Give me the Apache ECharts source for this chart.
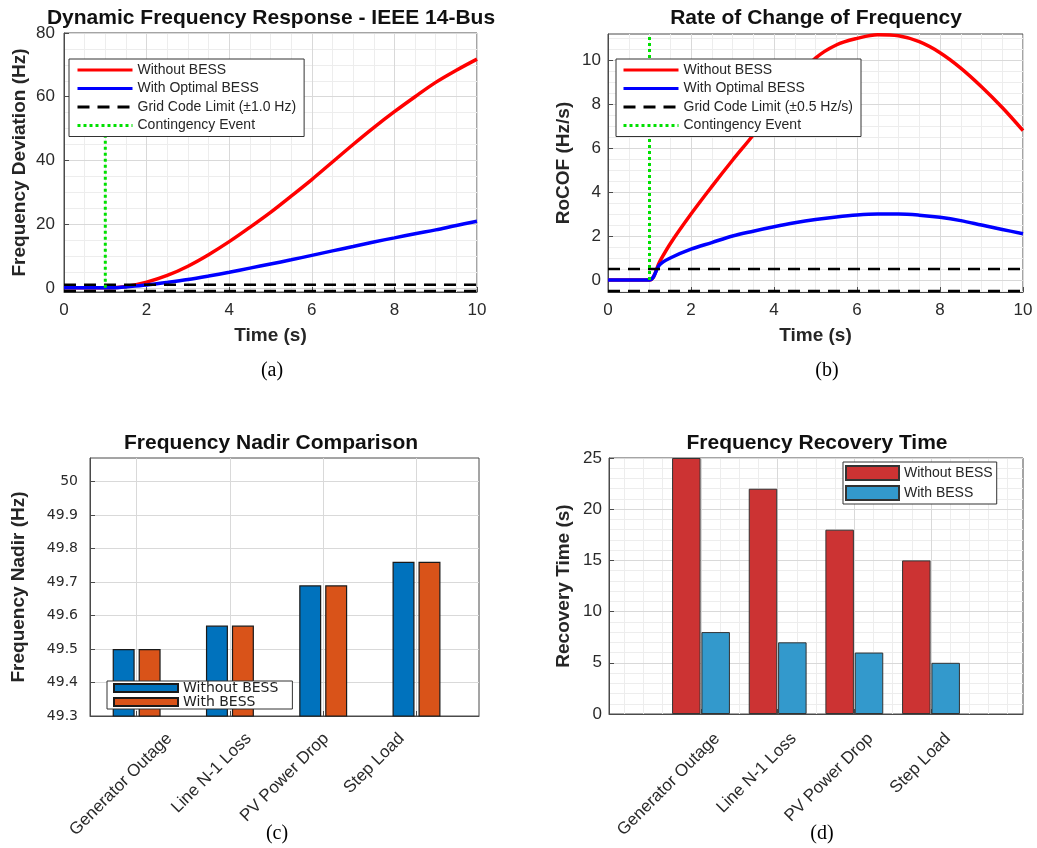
<!DOCTYPE html>
<html>
<head>
<meta charset="utf-8">
<script src="https://cdn.jsdelivr.net/npm/echarts@6/dist/echarts.min.js"></script>
<style>html,body{margin:0;padding:0;background:#fff}#c{width:1037px;height:848px}</style>
</head>
<body>
<div id="c"></div>
<script>
// ---------------- data ----------------
const timeS = [0, 0.5, 1, 1.25, 1.5, 2, 2.5, 3, 3.5, 4, 4.5, 5, 5.5, 6, 6.5, 7, 7.5, 8, 8.5, 9, 9.5, 10];
const freqDevWithout = [0, 0, 0, 0.1, 0.4, 1.8, 3.9, 6.8, 10.4, 14.5, 19.0, 23.7, 28.8, 34.0, 39.5, 45.0, 50.3, 55.3, 60.0, 64.5, 68.3, 71.8];
const freqDevWith = [0, 0, 0, 0.05, 0.3, 0.9, 1.7, 2.6, 3.7, 4.9, 6.2, 7.5, 8.8, 10.2, 11.6, 13.0, 14.4, 15.7, 17.0, 18.2, 19.6, 20.9];
const rocofWithout = [0, 0, 0, 0.85, 1.65, 3.0, 4.25, 5.45, 6.6, 7.85, 9.05, 10.1, 10.7, 11.0, 11.17, 11.12, 10.85, 10.35, 9.65, 8.8, 7.85, 6.8];
const rocofWith = [0, 0, 0, 0.7, 1.0, 1.4, 1.7, 2.0, 2.22, 2.42, 2.6, 2.75, 2.87, 2.96, 3.0, 3.0, 2.95, 2.85, 2.7, 2.5, 2.3, 2.1];
const freqLimit = 1.0;
const rocofLimit = 0.5;
const eventTime = 1;

const scenarios = ['Generator Outage', 'Line N-1 Loss', 'PV Power Drop', 'Step Load'];
const nadirWithout = [49.50, 49.57, 49.69, 49.76];
const nadirWith = [49.50, 49.57, 49.69, 49.76];
const recoveryWithout = [25, 22, 18, 15];
const recoveryWith = [8, 7, 6, 5];

const timeTicks = [0, 2, 4, 6, 8, 10];
const devTicks = [0, 20, 40, 60, 80];
const rocofTicks = [0, 2, 4, 6, 8, 10];
const nadirTicks = [49.3, 49.4, 49.5, 49.6, 49.7, 49.8, 49.9, 50];
const recoveryTicks = [0, 5, 10, 15, 20, 25];
const scenarioTicks = [1, 2, 3, 4];

// ---------------- helpers ----------------
const FONT = '"Liberation Sans", Arial, sans-serif';
const AXC = '#4a4a4a';
const MAJOR = '#d9d9d9';
const MINOR = '#ededed';
function pairs(xs, ys) { return xs.map((x, i) => [x, ys[i]]); }
function minorVals(min, max, step, major) {
  const out = [];
  for (let k = Math.ceil(min / step - 1e-9); k * step <= max + 1e-9; k++) {
    const v = +(k * step).toFixed(6);
    if (!major.some(m => Math.abs(m - v) < 1e-6)) out.push(v);
  }
  return out;
}
function numFmt(v) {
  return Math.abs(v - Math.round(v)) < 1e-9 ? String(Math.round(v)) : (+v).toFixed(1);
}
function mainAxis(o) {
  return {
    type: 'value', gridIndex: o.g, position: o.pos, min: o.min, max: o.max,
    name: o.name || '', nameLocation: 'middle', nameGap: o.nameGap || 30, nameMoveOverlap: false,
    nameTextStyle: { fontFamily: FONT, fontSize: 19, fontWeight: 'bold', color: '#262626' },
    axisLine: { show: true, onZero: false, lineStyle: { color: AXC, width: 1 } },
    axisTick: { show: true, inside: true, length: 5, customValues: o.ticks, lineStyle: { color: AXC } },
    axisLabel: {
      show: true, customValues: o.labelAt || o.ticks, formatter: o.fmt || numFmt,
      margin: o.margin, rotate: o.rotate || 0, fontFamily: o.labelFont || FONT,
      fontSize: o.labelSize || 17, color: '#2a2a2a'
    },
    splitLine: { show: true, lineStyle: { color: MAJOR, width: 1 } },
    minorTick: { show: false }, minorSplitLine: { show: false },
    z: 1
  };
}
function minorAxis(o) {
  return {
    type: 'value', gridIndex: o.g, position: o.pos, min: o.min, max: o.max,
    axisLine: { show: false }, axisTick: { show: false, customValues: o.vals },
    axisLabel: { show: false }, splitLine: { show: true, lineStyle: { color: MINOR, width: 1 } },
    z: 0
  };
}
const scenFmt = v => scenarios[Math.round(v) - 1] || '';

const A = { xmin: 0, xmax: 10, ymin: -1.3, ymax: 80 };
const B = { xmin: 0, xmax: 10, ymin: -0.55, ymax: 11.2 };
const C = { xmin: 0.5, xmax: 4.67, ymin: 49.3, ymax: 50.07 };
const D = { xmin: -0.2, xmax: 5.2, ymin: 0, ymax: 25 };

const xAxes = [
  mainAxis({ g: 0, pos: 'bottom', min: A.xmin, max: A.xmax, ticks: timeTicks, name: 'Time (s)', nameGap: 34, margin: 10 }),
  minorAxis({ g: 0, pos: 'top', min: A.xmin, max: A.xmax, vals: minorVals(A.xmin, A.xmax, 0.5, timeTicks) }),
  mainAxis({ g: 1, pos: 'bottom', min: B.xmin, max: B.xmax, ticks: timeTicks, name: 'Time (s)', nameGap: 34, margin: 10 }),
  minorAxis({ g: 1, pos: 'top', min: B.xmin, max: B.xmax, vals: minorVals(B.xmin, B.xmax, 0.5, timeTicks) }),
  mainAxis({ g: 2, pos: 'bottom', min: C.xmin, max: C.xmax, ticks: scenarioTicks, labelAt: [1.35, 2.2, 3.03, 3.84], fmt: scenFmt, rotate: 45, margin: 20 }),
  mainAxis({ g: 3, pos: 'bottom', min: D.xmin, max: D.xmax, ticks: scenarioTicks, labelAt: [1.21, 2.21, 3.21, 4.22], fmt: scenFmt, rotate: 45, margin: 22 }),
  minorAxis({ g: 3, pos: 'top', min: D.xmin, max: D.xmax, vals: minorVals(D.xmin, D.xmax, 0.25, scenarioTicks) })
];
const yAxes = [
  mainAxis({ g: 0, pos: 'left', min: A.ymin, max: A.ymax, ticks: devTicks, name: 'Frequency Deviation (Hz)', nameGap: 35, margin: 9 }),
  minorAxis({ g: 0, pos: 'right', min: A.ymin, max: A.ymax, vals: minorVals(A.ymin, A.ymax, 5, devTicks) }),
  mainAxis({ g: 1, pos: 'left', min: B.ymin, max: B.ymax, ticks: rocofTicks, name: 'RoCOF (Hz/s)', nameGap: 35, margin: 7 }),
  minorAxis({ g: 1, pos: 'right', min: B.ymin, max: B.ymax, vals: minorVals(B.ymin, B.ymax, 0.5, rocofTicks) }),
  mainAxis({ g: 2, pos: 'left', min: C.ymin, max: C.ymax, ticks: nadirTicks, name: 'Frequency Nadir (Hz)', nameGap: 62, margin: 12, labelFont: '"DejaVu Sans", sans-serif', labelSize: 14 }),
  mainAxis({ g: 3, pos: 'left', min: D.ymin, max: D.ymax, ticks: recoveryTicks, name: 'Recovery Time (s)', nameGap: 36, margin: 7 }),
  minorAxis({ g: 3, pos: 'right', min: D.ymin, max: D.ymax, vals: minorVals(D.ymin, D.ymax, 1, recoveryTicks) })
];

const gridBase = { show: true, borderColor: AXC, borderWidth: 1, backgroundColor: '#fff', containLabel: false, outerBoundsMode: 'none' };
const grids = [
  Object.assign({ left: 64, right: 560, top: 33, bottom: 556 }, gridBase),
  Object.assign({ left: 608, right: 14, top: 34, bottom: 556 }, gridBase),
  Object.assign({ left: 90, right: 558, top: 458, bottom: 132 }, gridBase),
  Object.assign({ left: 609, right: 14, top: 458, bottom: 134 }, gridBase)
];

const RED = '#ff0000', BLUE = '#0000ff', GREEN = '#00e000';
function line(name, xi, yi, data, color, width, type, smooth) {
  return {
    name: name, type: 'line', xAxisIndex: xi, yAxisIndex: yi, data: data,
    symbol: 'none', showSymbol: false, smooth: smooth || false, animation: false,
    lineStyle: { color: color, width: width, type: type || 'solid', cap: 'butt' },
    itemStyle: { color: color }, z: 3
  };
}
const tA0 = timeS[0], tA1 = timeS[timeS.length - 1];
const devPeak = Math.max.apply(null, freqDevWithout);
const series = [
  // (a)
  line('a|Without BESS', 0, 0, pairs(timeS, freqDevWithout), RED, 3.5, 'solid', 0.35),
  line('a|With Optimal BESS', 0, 0, pairs(timeS, freqDevWith), BLUE, 3.5, 'solid', 0.35),
  line('a|Grid Code Limit (±1.0 Hz)', 0, 0, [[tA0, freqLimit], [tA1, freqLimit]], '#000', 2.5, [12, 8]),
  line('a|Grid Code Limit (±1.0 Hz)', 0, 0, [[tA0, -freqLimit], [tA1, -freqLimit]], '#000', 2.5, [12, 8]),
  line('a|Contingency Event', 0, 0, [[eventTime, 0], [eventTime, devPeak]], GREEN, 3, [3, 3]),
  // (b)
  line('b|Without BESS', 2, 2, pairs(timeS, rocofWithout), RED, 3.5, 'solid', 0.35),
  line('b|With Optimal BESS', 2, 2, pairs(timeS, rocofWith), BLUE, 3.5, 'solid', 0.35),
  line('b|Grid Code Limit (±0.5 Hz/s)', 2, 2, [[tA0, rocofLimit], [tA1, rocofLimit]], '#000', 2.5, [12, 8]),
  line('b|Grid Code Limit (±0.5 Hz/s)', 2, 2, [[tA0, -rocofLimit], [tA1, -rocofLimit]], '#000', 2.5, [12, 8]),
  line('b|Contingency Event', 2, 2, [[eventTime, 0], [eventTime, B.ymax]], GREEN, 3, [3, 3]),
  // (c)
  {
    name: 'c|Without BESS', type: 'bar', xAxisIndex: 4, yAxisIndex: 4,
    data: scenarios.map((s, i) => [i + 1, nadirWithout[i]]),
    barWidth: 22, barGap: '18%', animation: false,
    itemStyle: { color: '#0072BD', borderColor: '#1a1a1a', borderWidth: 1.2 }
  },
  {
    name: 'c|With BESS', type: 'bar', xAxisIndex: 4, yAxisIndex: 4,
    data: scenarios.map((s, i) => [i + 1, nadirWith[i]]),
    barWidth: 22, barGap: '18%', animation: false,
    itemStyle: { color: '#D95319', borderColor: '#1a1a1a', borderWidth: 1.2 }
  },
  // (d)
  {
    name: 'd|Without BESS', type: 'bar', xAxisIndex: 5, yAxisIndex: 5,
    data: scenarios.map((s, i) => [i + 1, recoveryWithout[i]]),
    barWidth: 28.5, barGap: '3%', animation: false,
    itemStyle: { color: '#CC3333', borderColor: '#333', borderWidth: 1 }
  },
  {
    name: 'd|With BESS', type: 'bar', xAxisIndex: 5, yAxisIndex: 5,
    data: scenarios.map((s, i) => [i + 1, recoveryWith[i]]),
    barWidth: 28.5, barGap: '3%', animation: false,
    itemStyle: { color: '#3399CC', borderColor: '#333', borderWidth: 1 }
  }
];

const strip = n => n.slice(2);
const legendBase = {
  orient: 'vertical', backgroundColor: '#fff', borderColor: '#333', borderWidth: 1,
  borderRadius: 0, selectedMode: false, formatter: strip, z: 10
};
const lineLegendExtra = { itemStyle: { opacity: 0 }, lineStyle: { width: 3 } };
const legends = [
  Object.assign({}, legendBase, lineLegendExtra, {
    data: ['a|Without BESS', 'a|With Optimal BESS', 'a|Grid Code Limit (±1.0 Hz)', 'a|Contingency Event'],
    left: 69, top: 59, itemWidth: 55, itemHeight: 14, itemGap: 4.5, padding: [4, 8, 4, 7],
    textStyle: { fontFamily: FONT, fontSize: 14, color: '#262626' }
  }),
  Object.assign({}, legendBase, lineLegendExtra, {
    data: ['b|Without BESS', 'b|With Optimal BESS', 'b|Grid Code Limit (±0.5 Hz/s)', 'b|Contingency Event'],
    left: 616, top: 59, itemWidth: 55, itemHeight: 14, itemGap: 4.5, padding: [4, 8, 4, 6],
    textStyle: { fontFamily: FONT, fontSize: 14, color: '#262626' }
  }),
  Object.assign({}, legendBase, {
    data: ['c|Without BESS', 'c|With BESS'], icon: 'rect',
    left: 107, top: 681, itemWidth: 64, itemHeight: 8, itemGap: 0, padding: [0, 14, 0, 6],
    textStyle: { fontFamily: '"DejaVu Sans", sans-serif', fontSize: 14, lineHeight: 13, color: '#222' }
  }),
  Object.assign({}, legendBase, {
    data: ['d|Without BESS', 'd|With BESS'], icon: 'rect',
    left: 843, top: 462, itemWidth: 53, itemHeight: 14, itemGap: 4, padding: [3, 4, 3, 2],
    textStyle: { fontFamily: FONT, fontSize: 14, color: '#262626' }
  })
];

const titleStyle = { fontFamily: FONT, fontSize: 21, fontWeight: 'bold', color: '#111' };
const titles = [
  { text: 'Dynamic Frequency Response - IEEE 14-Bus', left: 271, top: 8, textAlign: 'center', padding: 0, textStyle: titleStyle },
  { text: 'Rate of Change of Frequency', left: 816, top: 8, textAlign: 'center', padding: 0, textStyle: titleStyle },
  { text: 'Frequency Nadir Comparison', left: 271, top: 433, textAlign: 'center', padding: 0, textStyle: titleStyle },
  { text: 'Frequency Recovery Time', left: 817, top: 433, textAlign: 'center', padding: 0, textStyle: titleStyle }
];

function caption(t, x, y) {
  return { type: 'text', x: x, y: y, silent: true,
    style: { text: t, align: 'center', verticalAlign: 'middle', font: '20px "Liberation Serif", "Times New Roman", serif', fill: '#000' } };
}

const chart = echarts.init(document.getElementById('c'), null, { renderer: 'canvas', width: 1037, height: 848 });
chart.setOption({
  animation: false,
  backgroundColor: '#fff',
  title: titles,
  legend: legends,
  grid: grids,
  xAxis: xAxes,
  yAxis: yAxes,
  series: series,
  graphic: [caption('(a)', 272, 371), caption('(b)', 827, 371), caption('(c)', 277, 834), caption('(d)', 822, 834)]
});
</script>
</body>
</html>
